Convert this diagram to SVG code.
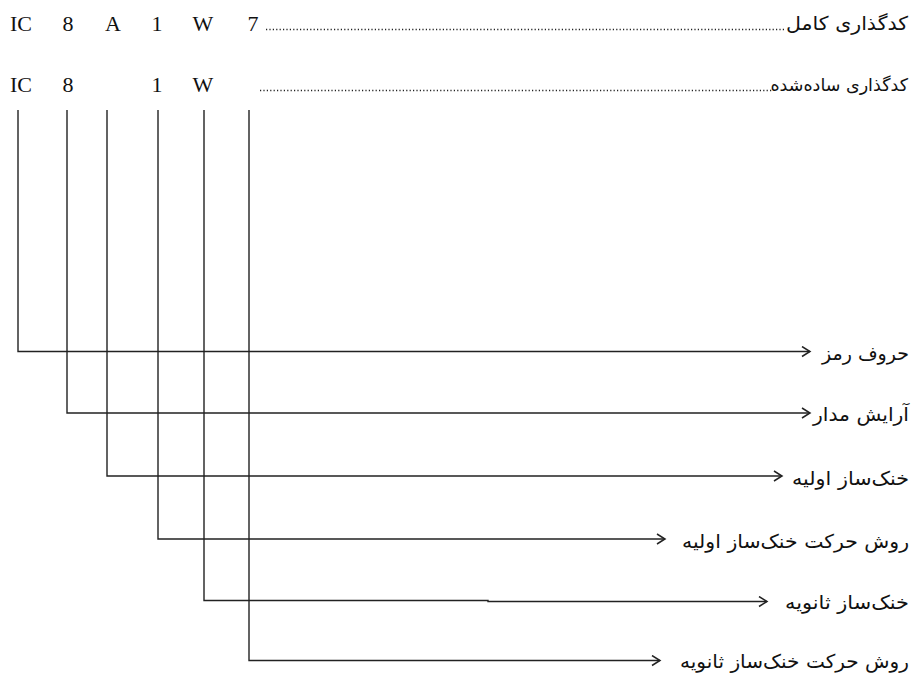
<svg xmlns="http://www.w3.org/2000/svg" width="912" height="675" viewBox="0 0 912 675">
<defs>
<style>
.code{font-family:"Liberation Serif","Times New Roman",serif;font-size:22px;fill:#111;text-anchor:middle}
.fa{font-family:"DejaVu Sans",sans-serif;font-size:19px;fill:#111;text-anchor:end}
.ln{stroke:#222;stroke-width:1.4;fill:none}
.dots{stroke:#222;stroke-width:1.5;stroke-dasharray:1.2 2.2;fill:none}
</style>
<marker id="arr" markerWidth="12" markerHeight="12" refX="10" refY="6" orient="auto" markerUnits="userSpaceOnUse">
<path d="M2,1 L10,6 L2,11" fill="none" stroke="#222" stroke-width="1.5"/>
</marker>
</defs>
<rect width="912" height="675" fill="#fff"/>
<g id="header">
<g id="full-code">
<text class="code" x="21" y="31">IC</text>
<text class="code" x="68" y="31">8</text>
<text class="code" x="113" y="31">A</text>
<text class="code" x="157" y="31">1</text>
<text class="code" x="203" y="31">W</text>
<text class="code" x="253" y="31">7</text>
<line class="dots" x1="266" y1="29.5" x2="784" y2="29.5"/>
<text class="fa" x="908" y="30" textLength="122" lengthAdjust="spacingAndGlyphs">کدگذاری کامل</text>
</g>
<g id="simple-code">
<text class="code" x="21" y="92">IC</text>
<text class="code" x="68" y="92">8</text>
<text class="code" x="157" y="92">1</text>
<text class="code" x="203" y="92">W</text>
<line class="dots" x1="260" y1="90.5" x2="772" y2="90.5"/>
<text class="fa" x="908" y="91" style="font-size:17.5px">کدگذاری ساده‌شده</text>
</g>
</g>
<g id="connectors">
<path class="ln" d="M18,110 V351.5 H810" marker-end="url(#arr)"/>
<path class="ln" d="M67,110 V413 H810" marker-end="url(#arr)"/>
<path class="ln" d="M107,110 V476 H782" marker-end="url(#arr)"/>
<path class="ln" d="M158,110 V539 H665" marker-end="url(#arr)"/>
<path class="ln" d="M204,110 V600.5 H488 V601.5 H767" marker-end="url(#arr)"/>
<path class="ln" d="M249,110 V660.5 H660" marker-end="url(#arr)"/>
</g>
<g id="label-1"><text class="fa" x="909" y="360" textLength="87" lengthAdjust="spacingAndGlyphs">حروف رمز</text></g>
<g id="label-2"><text class="fa" x="909" y="421" textLength="96" lengthAdjust="spacingAndGlyphs">آرایش مدار</text></g>
<g id="label-3"><text class="fa" x="909" y="485" textLength="117" lengthAdjust="spacingAndGlyphs">خنک‌ساز اولیه</text></g>
<g id="label-4"><text class="fa" x="909" y="548" textLength="227" lengthAdjust="spacingAndGlyphs">روش حرکت خنک‌ساز اولیه</text></g>
<g id="label-5"><text class="fa" x="909" y="609" textLength="124" lengthAdjust="spacingAndGlyphs">خنک‌ساز ثانویه</text></g>
<g id="label-6"><text class="fa" x="909" y="668" textLength="229" lengthAdjust="spacingAndGlyphs">روش حرکت خنک‌ساز ثانویه</text></g>
</svg>
